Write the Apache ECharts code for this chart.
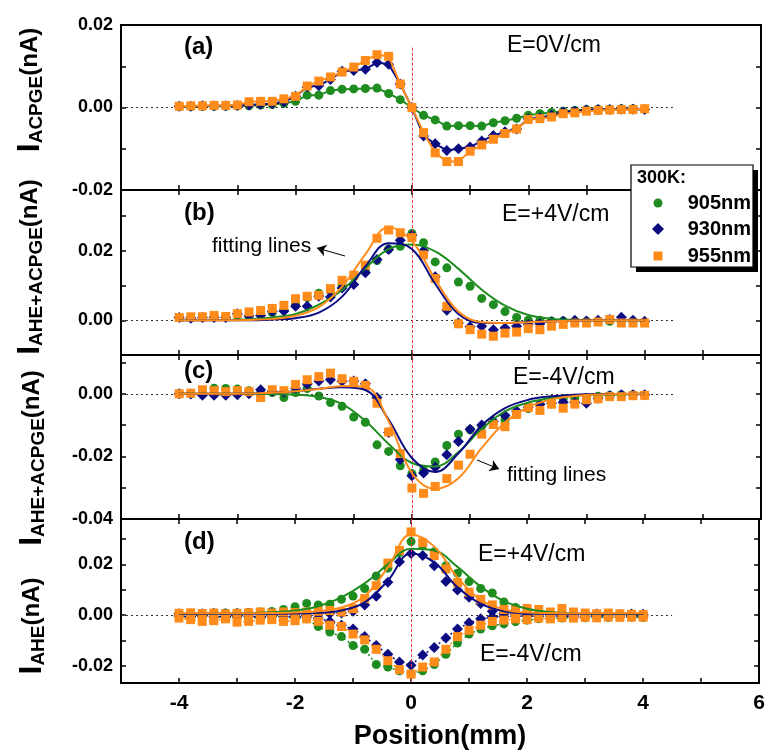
<!DOCTYPE html>
<html>
<head>
<meta charset="utf-8">
<script src="https://cdn.jsdelivr.net/npm/echarts@6/dist/echarts.min.js"></script>
<style>
  html, body { margin: 0; padding: 0; background: #fff; }
  #container { width: 768px; height: 753px; }
</style>
</head>
<body>
<div id="container"></div>
<script>
// positions (mm) of the measured points
const pos = [-4, -3.8, -3.6, -3.4, -3.2, -3, -2.8, -2.6, -2.4, -2.2, -2, -1.8, -1.6, -1.4, -1.2, -1, -0.8, -0.6, -0.4, -0.2,
  0, 0.2, 0.4, 0.6, 0.8, 1, 1.2, 1.4, 1.6, 1.8, 2, 2.2, 2.4, 2.6, 2.8, 3, 3.2, 3.4, 3.6, 3.8, 4];
// positions of the fitting-line samples
const fitX = [-4, -3.2, -2.8, -2.4, -2, -1.6, -1.2, -0.8, -0.4, 0, 0.4, 0.8, 1.2, 1.6, 2, 2.4, 2.8, 3.2, 4];

// (a) E=0V/cm, I_ACPGE
const a905 = [0.0002, 0.0002, 0.0003, 0.0003, 0.0003, 0.0004, 0.0004, 0.0006, 0.0007, 0.001, 0.0015, 0.003, 0.003, 0.0041, 0.0044, 0.0045, 0.0046, 0.0047, 0.0034, 0.0019,
  0, -0.0019, -0.003, -0.0045, -0.0044, -0.0044, -0.0045, -0.0037, -0.0032, -0.0026, -0.0019, -0.0015, -0.0012, -0.0009, -0.0007, -0.0005, -0.0004, -0.0004, -0.0003, -0.0003, -0.0004];
const a930 = [0.0003, 0.0003, 0.0004, 0.0004, 0.0004, 0.0005, 0.0006, 0.0008, 0.0009, 0.0014, 0.0027, 0.005, 0.0053, 0.0068, 0.0088, 0.009, 0.0093, 0.0109, 0.0105, 0.0057,
  0, -0.0069, -0.0088, -0.0104, -0.01, -0.0096, -0.0081, -0.0068, -0.0059, -0.0052, -0.0027, -0.0025, -0.0019, -0.0011, -0.0009, -0.0006, -0.0005, -0.0005, -0.0004, -0.0004, -0.0005];
const a955 = [0.0003, 0.0004, 0.0004, 0.0005, 0.0005, 0.0006, 0.0014, 0.0015, 0.0015, 0.0021, 0.0027, 0.0052, 0.0064, 0.0074, 0.0086, 0.0098, 0.0114, 0.0128, 0.0124, 0.0057,
  0, -0.0061, -0.011, -0.0131, -0.0131, -0.0106, -0.0091, -0.0077, -0.0063, -0.0052, -0.0029, -0.0027, -0.0023, -0.0015, -0.0013, -0.0009, -0.0007, -0.0006, -0.0005, -0.0005, -0.0003];

// (b) E=+4V/cm, I_AHE+ACPGE
const b905 = [0.0008, 0.0008, 0.0009, 0.001, 0.001, 0.0014, 0.0012, 0.0015, 0.0022, 0.003, 0.0045, 0.0065, 0.0078, 0.0085, 0.01, 0.0125, 0.014, 0.0172, 0.0205, 0.0213,
  0.025, 0.0223, 0.0168, 0.0151, 0.011, 0.0098, 0.0063, 0.0045, 0.0025, 0.0008, 0, 0, -0.0002, -0.0002, -0.0003, -0.0003, -0.0002, -0.0003, -0.0004, -0.0003, -0.0006];
const b930 = [0.0008, 0.0006, 0.0008, 0.0008, 0.0008, 0.0019, 0.0012, 0.0014, 0.0025, 0.0027, 0.004, 0.004, 0.0069, 0.0067, 0.0093, 0.0103, 0.0137, 0.0175, 0.0204, 0.023,
  0.0245, 0.02, 0.0125, 0.0029, -0.0008, -0.0019, -0.0017, -0.0027, -0.0022, -0.0017, -0.0012, -0.001, -0.0005, -0.0003, 0, -0.0002, 0, 0.0002, 0.0009, 0, -0.0003];
const b955 = [0.0008, 0.001, 0.001, 0.0014, 0.0011, 0.0019, 0.0024, 0.0028, 0.0034, 0.0043, 0.0062, 0.0069, 0.0072, 0.0091, 0.0115, 0.013, 0.0159, 0.0236, 0.026, 0.0252,
  0.0238, 0.0188, 0.012, 0.004, -0.001, -0.0027, -0.004, -0.0046, -0.0037, -0.0034, -0.0024, -0.0027, -0.0017, -0.0012, -0.0008, -0.0008, -0.0005, 0.0002, -0.0008, -0.0008, -0.0008];
const bFit905 = [0, 0.0001, 0.0003, 0.0008, 0.0018, 0.0045, 0.0087, 0.015, 0.0205, 0.0218, 0.0198, 0.0148, 0.0088, 0.0042, 0.0015, 0.0004, 0.0001, 0, 0];
const bFit930 = [0, 0, 0, 0.0002, 0.0006, 0.0022, 0.0068, 0.0155, 0.0222, 0.0205, 0.0105, 0.0018, -0.0008, -0.0008, -0.0005, -0.0003, -0.0001, 0, 0];
const bFit955 = [0, 0, 0.0001, 0.0004, 0.0013, 0.0038, 0.0097, 0.019, 0.0268, 0.0228, 0.0118, 0.0025, -0.0006, -0.0008, -0.0006, -0.0003, -0.0001, 0, 0];

// (c) E=-4V/cm, I_AHE+ACPGE
const c905 = [0, 0, 0.0005, 0.0018, 0.0017, 0.0015, 0.001, 0.0005, 0.0004, -0.0012, 0.0004, 0.0017, -0.0007, -0.0028, -0.004, -0.0074, -0.0091, -0.0163, -0.0184, -0.023,
  -0.0255, -0.0245, -0.0218, -0.0165, -0.0129, -0.0115, -0.0103, -0.0092, -0.0083, -0.0065, -0.0047, -0.0033, -0.002, -0.0016, -0.0014, -0.0012, -0.0008, -0.0005, -0.0003, -0.0003, -0.0004];
const c930 = [0, -0.0001, -0.0005, -0.0005, -0.0005, -0.0003, 0, 0.0013, 0.0008, 0.0005, 0.0018, 0.0031, 0.0041, 0.0045, 0.004, 0.0041, 0.0032, -0.0012, -0.0124, -0.021,
  -0.0262, -0.0253, -0.0235, -0.0195, -0.0152, -0.0113, -0.01, -0.0088, -0.0069, -0.0055, -0.0043, -0.0033, -0.003, -0.0027, -0.0028, -0.003, -0.0014, -0.0006, -0.0003, -0.0003, -0.0003];
const c955 = [0, 0.0002, 0.0013, 0.001, 0.0007, 0.001, 0.0007, -0.0012, 0.0013, 0.001, 0.003, 0.0045, 0.0055, 0.0066, 0.0048, 0.004, 0.0027, -0.003, -0.0122, -0.0191,
  -0.0301, -0.0318, -0.0296, -0.0271, -0.0228, -0.0193, -0.0129, -0.0098, -0.0105, -0.0066, -0.0044, -0.0053, -0.0033, -0.0046, -0.0033, -0.0019, -0.0016, -0.0009, -0.0009, -0.0006, -0.0005];
const cFit905 = [0, 0, 0, -0.0001, -0.0003, -0.001, -0.0033, -0.0087, -0.016, -0.0221, -0.0232, -0.0186, -0.0112, -0.0056, -0.0028, -0.0013, -0.0006, -0.0003, 0];
const cFit930 = [0, 0, 0.0001, 0.0003, 0.0008, 0.0016, 0.0021, 0.0012, -0.0083, -0.0205, -0.025, -0.019, -0.0101, -0.0046, -0.0019, -0.0008, -0.0003, -0.0001, 0];
const cFit955 = [0, 0, 0.0001, 0.0003, 0.0008, 0.0015, 0.0025, 0.0022, -0.0088, -0.0253, -0.0304, -0.027, -0.0173, -0.0092, -0.0043, -0.0018, -0.0007, -0.0002, 0];

// (d) I_AHE, E=+4V/cm (p) and E=-4V/cm (m)
const d905p = [0.0003, 0.0004, 0.0005, 0.0006, 0.0008, 0.0008, 0.001, 0.0012, 0.0014, 0.0022, 0.0033, 0.0046, 0.004, 0.0043, 0.0062, 0.0075, 0.0105, 0.0154, 0.0185, 0.0247,
  0.029, 0.0275, 0.025, 0.0195, 0.0165, 0.0132, 0.0105, 0.0087, 0.0052, 0.003, 0.0018, 0.0005, 0.0008, 0.0006, 0.0005, 0.0004, 0.0003, 0.0002, 0.0003, 0.0002, 0.0001];
const d930p = [0.0005, 0.0004, 0.0005, 0.0007, 0.0004, 0.0006, 0.0005, 0.0004, 0.0006, 0.0005, 0.0004, 0.0006, 0.0005, 0.0006, 0.0008, 0.0015, 0.004, 0.0074, 0.0129, 0.021,
  0.0243, 0.0235, 0.0195, 0.0132, 0.0099, 0.007, 0.0046, 0.0015, 0.0005, 0.0002, 0.0003, 0.0002, 0.0004, 0.0003, 0.0002, 0.0003, 0.0004, 0.0003, 0.0002, 0.0004, 0.0003];
const d955p = [0.0007, 0.0009, 0.0006, 0.0008, 0.0005, 0.0007, 0.0009, 0.0012, 0.0008, 0.0012, 0.001, 0.0012, 0.0015, 0.0018, 0.0012, 0.0025, 0.0065, 0.0116, 0.0205, 0.0255,
  0.0328, 0.0286, 0.0235, 0.0182, 0.0128, 0.009, 0.0062, 0.004, 0.0022, 0.0018, 0.0026, 0.0022, 0.0012, 0.0026, 0.0012, 0.0008, 0.0005, 0.0008, 0.0005, 0.0003, 0.0002];
const d905m = [-0.0005, -0.0008, -0.0006, -0.0009, -0.0007, -0.001, -0.0008, -0.0012, -0.0009, -0.0012, -0.001, -0.0015, -0.0045, -0.0067, -0.0085, -0.012, -0.0135, -0.0195, -0.0205, -0.022,
  -0.0232, -0.022, -0.0195, -0.0155, -0.011, -0.0075, -0.0055, -0.0042, -0.0035, -0.0026, -0.002, -0.0015, -0.0013, -0.0012, -0.001, -0.0011, -0.0009, -0.001, -0.0008, -0.0009, -0.001];
const d930m = [-0.0004, -0.0006, -0.0005, -0.0007, -0.0005, -0.0006, -0.0005, -0.0007, -0.0005, -0.0006, -0.0005, -0.0008, -0.0012, -0.0025, -0.004, -0.0055, -0.0085, -0.012, -0.0155, -0.0185,
  -0.0198, -0.0158, -0.0128, -0.009, -0.0055, -0.003, -0.0015, -0.0008, -0.0006, -0.0005, -0.0004, -0.0005, -0.0004, -0.0005, -0.0004, -0.0005, -0.0004, -0.0003, -0.0004, -0.0003, -0.0004];
const d955m = [-0.0012, -0.0018, -0.0025, -0.0022, -0.0015, -0.0028, -0.0025, -0.002, -0.0018, -0.0025, -0.0022, -0.0015, -0.0025, -0.004, -0.0045, -0.0075, -0.0098, -0.0135, -0.018, -0.0215,
  -0.0233, -0.0205, -0.0185, -0.0135, -0.0085, -0.006, -0.004, -0.0025, -0.002, -0.0015, -0.0018, -0.0012, -0.0015, -0.001, -0.0012, -0.0009, -0.0011, -0.0008, -0.0009, -0.0008, -0.0008];
const dFit905 = [0.0005, 0.0006, 0.0008, 0.0011, 0.0018, 0.0035, 0.007, 0.0125, 0.02, 0.0262, 0.0255, 0.019, 0.0112, 0.0055, 0.0025, 0.0012, 0.0007, 0.0005, 0.0004];
const dFit930 = [0.0005, 0.0005, 0.0005, 0.0005, 0.0006, 0.0009, 0.0018, 0.005, 0.0136, 0.0243, 0.0208, 0.011, 0.0045, 0.0015, 0.0007, 0.0005, 0.0005, 0.0005, 0.0005];
const dFit955 = [0.0007, 0.0007, 0.0007, 0.0008, 0.001, 0.0015, 0.003, 0.0075, 0.0188, 0.0318, 0.027, 0.0148, 0.006, 0.0022, 0.001, 0.0008, 0.0007, 0.0007, 0.0007];

// axis ticks / labels
const xTicks = [-5, -4, -3, -2, -1, 0, 1, 2, 3, 4, 5, 6];
const xLabels = [-4, -2, 0, 2, 4, 6];
const yRange = [[-0.02, 0.02], [-0.01, 0.0375], [-0.04, 0.0124], [-0.0268, 0.0379]];
const yTicks = [[-0.02, -0.01, 0, 0.01, 0.02], [-0.01, 0, 0.01, 0.02, 0.03], [-0.04, -0.03, -0.02, -0.01, 0, 0.01], [-0.02, -0.01, 0, 0.01, 0.02, 0.03]];
const yLabels = [[-0.02, 0, 0.02], [0, 0.02], [-0.04, -0.02, 0], [-0.02, 0, 0.02]];
const wavelengths = ['905nm', '930nm', '955nm'];

const FONT = 'Liberation Sans, Arial, sans-serif';
const COL = ['#1f8c1f', '#0c0c82', '#ff8c1a'];
const SYM = ['circle', 'diamond', 'rect'];
const SIZE = [9, 11, 9];

const panels = [{ top: 25, height: 165 }, { top: 190, height: 165 }, { top: 355, height: 164 }, { top: 519, height: 164 }];

function pts(vals) { return pos.map((x, i) => [x, vals[i]]); }
function fitPts(vals) { return fitX.map((x, i) => [x, vals[i]]); }

let grid = [], xAxis = [], yAxis = [], series = [];

panels.forEach((p, i) => {
    grid.push({ left: 121, right: 7, top: p.top, height: p.height });
    let axLine = { show: true, onZero: false, lineStyle: { color: '#000', width: 2 } };
    let tick = { inside: true, length: 5, lineStyle: { width: 1.5, color: '#000' } };
    xAxis.push({
        type: 'value', gridIndex: i, min: -5, max: 6, position: 'bottom',
        axisLine: axLine, splitLine: { show: false },
        axisTick: Object.assign({ customValues: xTicks }, tick),
        axisLabel: {
            show: i === 3, customValues: xLabels, margin: 10,
            color: '#000', fontFamily: FONT, fontWeight: 'bold', fontSize: 21
        },
        name: i === 3 ? 'Position(mm)' : '', nameLocation: 'middle', nameGap: 40,
        nameTextStyle: { color: '#000', fontFamily: FONT, fontWeight: 'bold', fontSize: 27 }
    });
    xAxis.push({
        type: 'value', gridIndex: i, min: -5, max: 6, position: 'top',
        axisLine: axLine, splitLine: { show: false },
        axisTick: Object.assign({ show: i > 0, customValues: xTicks }, tick),
        axisLabel: { show: false }
    });
    yAxis.push({
        type: 'value', gridIndex: i, min: yRange[i][0], max: yRange[i][1], position: 'left',
        axisLine: axLine, splitLine: { show: false },
        axisTick: Object.assign({ customValues: yTicks[i] }, tick),
        axisLabel: {
            customValues: yLabels[i], margin: 8, formatter: v => v.toFixed(2),
            color: '#000', fontFamily: FONT, fontWeight: 'bold', fontSize: 18
        }
    });
    yAxis.push({
        type: 'value', gridIndex: i, min: yRange[i][0], max: yRange[i][1], position: 'right',
        axisLine: axLine, splitLine: { show: false },
        axisTick: Object.assign({ customValues: yTicks[i] }, tick),
        axisLabel: { show: false }
    });

    // zero line and the red x=0 line
    let redTop = i === 0 ? 0.0145 : yRange[i][1];
    series.push({
        type: 'line', xAxisIndex: 2 * i, yAxisIndex: 2 * i, data: [], silent: true, z: 1,
        markLine: {
            symbol: 'none', silent: true, animation: false, label: { show: false },
            data: [
                [{ coord: [-5, 0], lineStyle: { color: '#333', type: [2, 3], width: 1.2 } }, { coord: [4.5, 0] }],
                [{ coord: [0, redTop], lineStyle: { color: '#f03a3a', type: [3, 2], width: 1 } }, { coord: [0, yRange[i][0]] }]
            ]
        }
    });
});

function markers(k) {
    return { symbol: SYM[k], symbolSize: SIZE[k], itemStyle: { color: COL[k], opacity: 1 } };
}

// (a): points joined by lines
[a905, a930, a955].forEach((vals, k) => {
    series.push(Object.assign({
        name: wavelengths[k], type: 'line', xAxisIndex: 0, yAxisIndex: 0, z: 3 + k,
        data: pts(vals), lineStyle: { color: COL[k], width: 2 }
    }, markers(k)));
});

// (b), (c): points + fitting lines
[[b905, b930, b955, bFit905, bFit930, bFit955], [c905, c930, c955, cFit905, cFit930, cFit955]].forEach((set, j) => {
    let gi = j + 1;
    [0, 1, 2].forEach(k => {
        series.push(Object.assign({
            type: 'scatter', xAxisIndex: 2 * gi, yAxisIndex: 2 * gi, z: 3 + k, data: pts(set[k])
        }, markers(k)));
    });
    [0, 1, 2].forEach(k => {
        series.push({
            type: 'line', xAxisIndex: 2 * gi, yAxisIndex: 2 * gi, z: 6, data: fitPts(set[3 + k]),
            smooth: 0.4, showSymbol: false, symbol: 'none', lineStyle: { color: COL[k], width: 2 }
        });
    });
});

// (d): +4V/cm points with fitting lines, -4V/cm points joined by dotted lines
[d905p, d930p, d955p].forEach((vals, k) => {
    series.push(Object.assign({
        type: 'scatter', xAxisIndex: 6, yAxisIndex: 6, z: 3 + k, data: pts(vals)
    }, markers(k)));
});
[d905m, d930m, d955m].forEach((vals, k) => {
    series.push(Object.assign({
        type: 'line', xAxisIndex: 6, yAxisIndex: 6, z: 3 + k, data: pts(vals),
        lineStyle: { color: COL[k], width: 1.5, type: [2, 3] }
    }, markers(k)));
});
[dFit905, dFit930, dFit955].forEach((vals, k) => {
    series.push({
        type: 'line', xAxisIndex: 6, yAxisIndex: 6, z: 6, data: fitPts(vals),
        smooth: 0.4, showSymbol: false, symbol: 'none', lineStyle: { color: COL[k], width: 2 }
    });
});

// arrows next to "fitting lines"
series.push({
    type: 'line', xAxisIndex: 0, yAxisIndex: 0, data: [], silent: true, z: 8,
    markLine: {
        symbol: ['none', 'arrow'], symbolSize: 9, silent: true, animation: false, label: { show: false },
        lineStyle: { color: '#000', type: 'solid', width: 1 },
        data: [
            [{ x: 345, y: 256 }, { x: 317, y: 248 }],
            [{ x: 477, y: 460 }, { x: 499, y: 469 }]
        ]
    }
});

function label(text, x, y, size, bold) {
    return {
        type: 'text', x: x, y: y, silent: true, z: 100,
        style: { text: text, fill: '#000', font: (bold ? 'bold ' : '') + size + 'px ' + FONT, align: 'left', verticalAlign: 'middle' }
    };
}

function yTitle(sub, x, y) {
    return {
        type: 'text', x: x, y: y, rotation: Math.PI / 2, silent: true, z: 100,
        style: {
            text: '{i|I}{s|' + sub + '}{n|(nA)}', align: 'center', verticalAlign: 'middle',
            rich: {
                i: { fontSize: 32, fontWeight: 'bold', fontFamily: FONT, fill: '#000' },
                s: { fontSize: 19, fontWeight: 'bold', fontFamily: FONT, fill: '#000', verticalAlign: 'bottom' },
                n: { fontSize: 24, fontWeight: 'bold', fontFamily: FONT, fill: '#000' }
            }
        }
    };
}

let graphic = [
    label('(a)', 184, 47, 24, true),
    label('(b)', 184, 213, 24, true),
    label('(c)', 184, 371, 24, true),
    label('(d)', 184, 542, 24, true),
    label('E=0V/cm', 507, 46, 23, false),
    label('E=+4V/cm', 502, 215, 23, false),
    label('E=-4V/cm', 513, 378, 23, false),
    label('E=+4V/cm', 478, 555, 23, false),
    label('E=-4V/cm', 480, 655, 23, false),
    label('fitting lines', 212, 246, 21, false),
    label('fitting lines', 507, 475, 21, false),
    yTitle('ACPGE', 30, 90),
    yTitle('AHE+ACPGE', 30, 267),
    yTitle('AHE+ACPGE', 32, 458),
    yTitle('AHE', 32, 626),
    // legend box with its offset shadow
    { type: 'rect', shape: { x: 636, y: 170, width: 122, height: 102 }, z: 89, silent: true, style: { fill: '#000' } },
    {
        type: 'rect', shape: { x: 631, y: 165, width: 122, height: 102 }, z: 90, silent: true,
        style: { fill: '#fff', stroke: '#000', lineWidth: 1.2 }
    },
    label('300K:', 637, 178, 18, true),
    { type: 'circle', shape: { cx: 658, cy: 203, r: 4.5 }, z: 101, silent: true, style: { fill: COL[0] } },
    { type: 'polygon', shape: { points: [[658, 223], [664, 229], [658, 235], [652, 229]] }, z: 101, silent: true, style: { fill: COL[1] } },
    { type: 'rect', shape: { x: 653.5, y: 251.5, width: 9, height: 9 }, z: 101, silent: true, style: { fill: COL[2] } }
];
wavelengths.forEach((w, k) => {
    graphic.push({
        type: 'text', x: 751, y: [203, 229, 256][k], silent: true, z: 101,
        style: { text: w, fill: '#000', font: 'bold 20px ' + FONT, align: 'right', verticalAlign: 'middle' }
    });
});

let myChart = echarts.init(document.getElementById('container'));
myChart.setOption({
    animation: false,
    backgroundColor: '#fff',
    grid, xAxis, yAxis, series, graphic
});
</script>
</body>
</html>
